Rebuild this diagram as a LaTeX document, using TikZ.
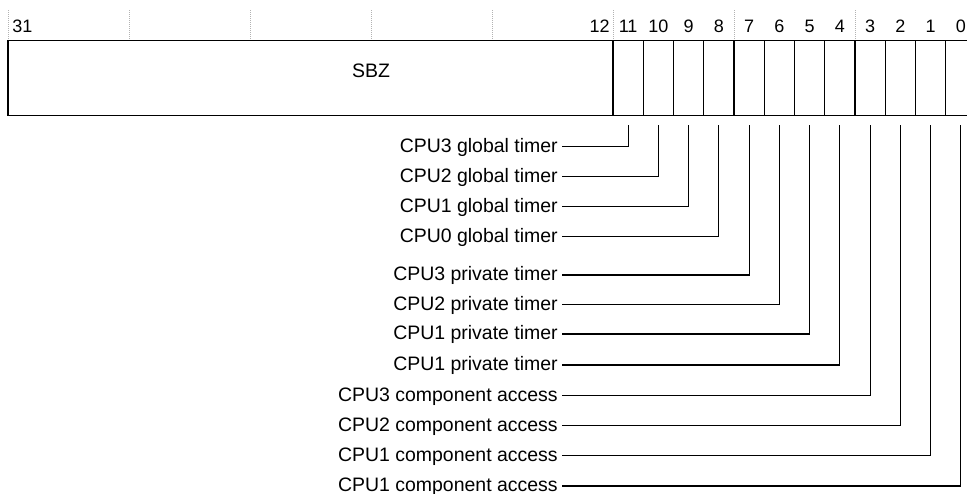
\documentclass[tikz,border=0pt]{standalone}
\usepackage{fontspec}
\setmainfont{Liberation Sans}
\tikzset{
  frame/.style={line width=1.2pt},
  bitbox/.style={draw, line width=0.9pt, minimum width=22.69pt, minimum height=56.25pt, inner sep=0pt},
  bitno/.style={font=\fontsize{13.5}{16}\selectfont, inner sep=0pt, anchor=base},
  flag/.style={font=\fontsize{14.6}{17}\selectfont, anchor=east, inner xsep=3pt, inner ysep=0pt, text height=10pt, text depth=1.3pt},
  leader/.style={line width=0.8pt},
  guide/.style={gray!60, densely dotted, line width=0.5pt}
}
\begin{document}
\begin{tikzpicture}[x=0.75pt, y=-0.75pt]
  \useasboundingbox (0,0) rectangle (967,493);
  \clip (0,0) rectangle (967,493);

  %目盛り
  \draw[guide] (8,10) -- (8,40.5);
  \draw[guide] (129,10) -- (129,40.5);
  \draw[guide] (250,10) -- (250,40.5);
  \draw[guide] (371,10) -- (371,40.5);
  \draw[guide] (492,10) -- (492,40.5);
  \draw[guide] (613,10) -- (613,40.5);
  \draw[guide] (734,10) -- (734,40.5);
  \draw[guide] (855,10) -- (855,40.5); %点線

  %ビット番号
  \node[bitno, anchor=base west] (n31) at (12,32.3) {31};
  \node[bitno, anchor=base east] (n12) at (610,32.3) {12};
  \node[bitno] (n11) at (628.1,32.3) {11};
  \node[bitno] (n10) at (658.4,32.3) {10};
  \node[bitno] (n9) at (688.6,32.3) {9};
  \node[bitno] (n8) at (718.9,32.3) {8};
  \node[bitno] (n7) at (749.1,32.3) {7};
  \node[bitno] (n6) at (779.4,32.3) {6};
  \node[bitno] (n5) at (809.6,32.3) {5};
  \node[bitno] (n4) at (839.9,32.3) {4};
  \node[bitno] (n3) at (870.1,32.3) {3};
  \node[bitno] (n2) at (900.4,32.3) {2};
  \node[bitno] (n1) at (930.6,32.3) {1};
  \node[bitno] (n0) at (960.9,32.3) {0};

  %レジスタ
  \node[bitbox] (bit11) at (628.1,78) {};
  \node[bitbox] (bit10) at (658.4,78) {};
  \node[bitbox] (bit9) at (688.6,78) {};
  \node[bitbox] (bit8) at (718.9,78) {};
  \node[bitbox] (bit7) at (749.1,78) {};
  \node[bitbox] (bit6) at (779.4,78) {};
  \node[bitbox] (bit5) at (809.6,78) {};
  \node[bitbox] (bit4) at (839.9,78) {};
  \node[bitbox] (bit3) at (870.1,78) {};
  \node[bitbox] (bit2) at (900.4,78) {};
  \node[bitbox] (bit1) at (930.6,78) {};
  \node[bitbox] (bit0) at (960.9,78) {};
  \draw[frame] (8,40.5) rectangle (976,115.5); %外枠
  \node[font=\fontsize{14.6}{17}\selectfont] (sbz) at (371,70.5) {SBZ};

  %名前
  \node[flag] (flag11) at (562,146.5) {CPU3 global timer};
  \node[flag] (flag10) at (562,176.5) {CPU2 global timer};
  \node[flag] (flag9) at (562,206.3) {CPU1 global timer};
  \node[flag] (flag8) at (562,236.7) {CPU0 global timer};
  \node[flag] (flag7) at (562,275) {CPU3 private timer};
  \node[flag] (flag6) at (562,304.5) {CPU2 private timer};
  \node[flag] (flag5) at (562,334) {CPU1 private timer};
  \node[flag] (flag4) at (562,365) {CPU1 private timer};
  \node[flag] (flag3) at (562,395.5) {CPU3 component access};
  \node[flag] (flag2) at (562,425.5) {CPU2 component access};
  \node[flag] (flag1) at (562,455.5) {CPU1 component access};
  \node[flag] (flag0) at (562,486) {CPU1 component access};

  %引き出し線
  \draw[leader] (flag11.east) -| ([yshift=-6.4pt]bit11.south);
  \draw[leader] (flag10.east) -| ([yshift=-6.4pt]bit10.south);
  \draw[leader] (flag9.east) -| ([yshift=-6.4pt]bit9.south);
  \draw[leader] (flag8.east) -| ([yshift=-6.4pt]bit8.south);
  \draw[leader] (flag7.east) -| ([yshift=-6.4pt]bit7.south);
  \draw[leader] (flag6.east) -| ([yshift=-6.4pt]bit6.south);
  \draw[leader] (flag5.east) -| ([yshift=-6.4pt]bit5.south);
  \draw[leader] (flag4.east) -| ([yshift=-6.4pt]bit4.south);
  \draw[leader] (flag3.east) -| ([yshift=-6.4pt]bit3.south);
  \draw[leader] (flag2.east) -| ([yshift=-6.4pt]bit2.south);
  \draw[leader] (flag1.east) -| ([yshift=-6.4pt]bit1.south);
  \draw[leader] (flag0.east) -| ([yshift=-6.4pt]bit0.south);
\end{tikzpicture}
\end{document}
